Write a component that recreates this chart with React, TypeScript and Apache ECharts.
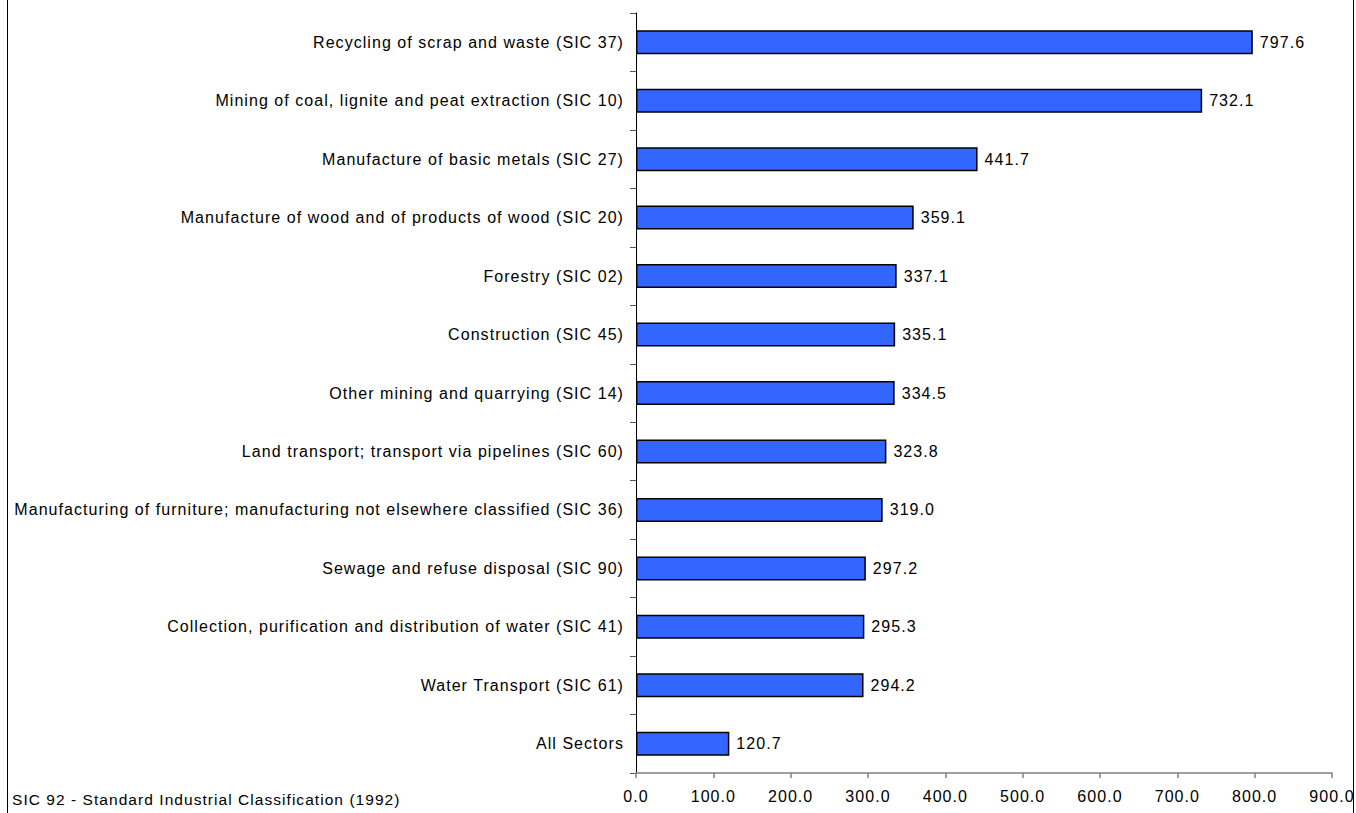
import React, { useEffect, useRef } from "react";
import * as echarts from "echarts";

const categories: string[] = [
  "Recycling of scrap and waste (SIC 37)",
  "Mining of coal, lignite and peat extraction (SIC 10)",
  "Manufacture of basic metals (SIC 27)",
  "Manufacture of wood and of products of wood (SIC 20)",
  "Forestry (SIC 02)",
  "Construction (SIC 45)",
  "Other mining and quarrying (SIC 14)",
  "Land transport; transport via pipelines (SIC 60)",
  "Manufacturing of furniture; manufacturing not elsewhere classified (SIC 36)",
  "Sewage and refuse disposal (SIC 90)",
  "Collection, purification and distribution of water (SIC 41)",
  "Water Transport (SIC 61)",
  "All Sectors",
];

const values: number[] = [797.6, 732.1, 441.7, 359.1, 337.1, 335.1, 334.5, 323.8, 319.0, 297.2, 295.3, 294.2, 120.7];

const xMin = 0;
const xMax = 900;
const xInterval = 100;

const footnote = "SIC 92 - Standard Industrial Classification (1992)";

const FONT = "'Liberation Sans', Arial, sans-serif";

export default function App() {
  const ref = useRef<HTMLDivElement | null>(null);

  useEffect(() => {
    if (!ref.current) return;
    const chart = echarts.init(ref.current, null, { renderer: "svg" });
    chart.setOption({
      animation: false,
      backgroundColor: "#ffffff",
      textStyle: { fontFamily: FONT },
      grid: { left: 636, right: 24, top: 13, bottom: 40, containLabel: false },
      xAxis: {
        type: "value",
        min: xMin,
        max: xMax,
        interval: xInterval,
        axisLine: { show: true, lineStyle: { color: "#808080", width: 1.5 } },
        axisTick: { show: true, length: 5, lineStyle: { color: "#808080", width: 1.5 } },
        splitLine: { show: false },
        axisLabel: {
          formatter: (v: number) => v.toFixed(1),
          fontSize: 16,
          color: "#000",
          margin: 15,
          fontFamily: FONT,
        },
      },
      yAxis: {
        type: "category",
        inverse: true,
        data: categories,
        axisLine: { show: true, lineStyle: { color: "#000", width: 1 } },
        axisTick: { show: true, length: 6, alignWithLabel: false, lineStyle: { color: "#555", width: 1 } },
        axisLabel: { fontSize: 16, color: "#000", margin: 12, fontFamily: FONT },
      },
      series: [
        {
          type: "bar",
          data: values,
          barWidth: 24,
          itemStyle: { color: "#3366FF", borderColor: "#000", borderWidth: 1.5 },
          label: {
            show: true,
            position: "right",
            distance: 7,
            formatter: (p: any) => Number(p.value).toFixed(1),
            fontSize: 16,
            color: "#000",
            fontFamily: FONT,
          },
        },
      ],
      graphic: [
        {
          type: "line",
          shape: { x1: 7.5, y1: 0, x2: 7.5, y2: 813 },
          style: { stroke: "#000", lineWidth: 1 },
        },
        {
          type: "line",
          shape: { x1: 1353.5, y1: 0, x2: 1353.5, y2: 813 },
          style: { stroke: "#000", lineWidth: 1 },
        },
        {
          type: "text",
          left: 12,
          top: 791,
          style: { text: footnote, fontSize: 15.5, fill: "#000", fontFamily: FONT },
        },
      ],
    });
    return () => chart.dispose();
  }, []);

  return (
    <>
      <style>{`.sic-chart svg text { letter-spacing: 1.05px; }`}</style>
      <div
        ref={ref}
        className="sic-chart"
        style={{ position: "absolute", left: 0, top: 0, width: 1356, height: 813 }}
      />
    </>
  );
}
